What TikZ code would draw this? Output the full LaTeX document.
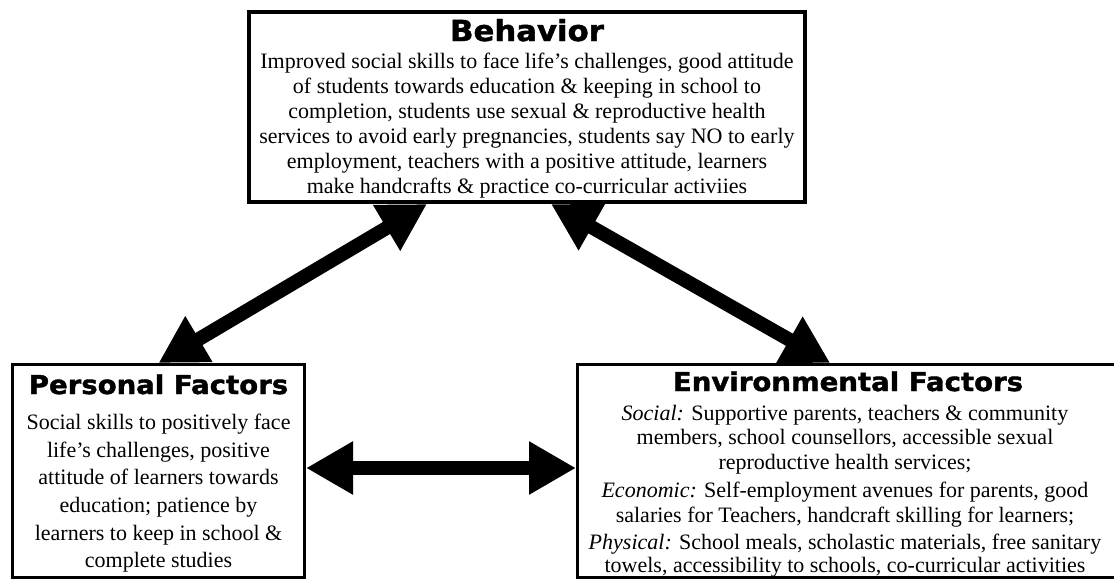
\documentclass[tikz,border=0pt]{standalone}
\usepackage{fontspec}
\setmainfont{Liberation Serif}
\newfontfamily\headfont{DejaVu Sans}[BoldFeatures={FakeStretch=1.06,FakeBold=1.5}]
\usetikzlibrary{arrows.meta}
\pgfdeclarelayer{arrowlayer}
\pgfsetlayers{arrowlayer,main}
\begin{document}
\begin{tikzpicture}[x=1pt,y=-1pt,
  box/.style={draw=black,fill=white,rectangle,inner sep=0pt},
  heading/.style={font=\headfont\bfseries\fontsize{26}{30}\selectfont,inner sep=0pt,anchor=base},
  body/.style={font=\fontsize{22}{25}\selectfont,align=center,inner sep=0pt,anchor=north},
  link/.style={line width=14pt,
    {Triangle[width=50pt,length=47pt]}-{Triangle[width=50pt,length=47pt]}},
]
\useasboundingbox (0,0) rectangle (1114,579);

% the three boxes
\node[box,line width=4pt,minimum width=556pt,minimum height=190pt] (beh) at (527,107) {};
\node[box,line width=3pt,minimum width=292pt,minimum height=212.5pt] (per) at (158.5,470.75) {};
\node[box,line width=3pt,minimum width=539.5pt,minimum height=212.5pt] (env) at (847.25,470.75) {};

% headings
\node[heading,font=\headfont\bfseries\fontsize{29}{32}\selectfont] (behhead) at (527,41) {Behavior};
\node[heading] (perhead) at (158.5,394) {Personal Factors};
\node[heading] (envhead) at (848,391) {Environmental Factors};

% box texts
\node[body] (behtext) at (527,52.5) {Improved social skills to face life’s challenges, good attitude\\
of students towards education \& keeping in school to\\
completion, students use sexual \& reproductive health\\
services to avoid early pregnancies, students say NO to early\\
employment, teachers with a positive attitude, learners\\
make handcrafts \& practice co-curricular activiies};

\node[body,font=\fontsize{22}{27.6}\selectfont] (pertext) at (158.5,414) {Social skills to positively face\\
life’s challenges, positive\\
attitude of learners towards\\
education; patience by\\
learners to keep in school \&\\
complete studies};

\node[body,font=\fontsize{22}{24.5}\selectfont] (envsocial) at (845,405) {\textit{Social:} Supportive parents, teachers \& community\\
members, school counsellors, accessible sexual\\
reproductive health services;};
\node[body,font=\fontsize{22}{24.5}\selectfont] (enveco) at (845,482) {\textit{Economic:} Self-employment avenues for parents, good\\
salaries for Teachers, handcraft skilling for learners;};
\node[body,font=\fontsize{22}{23.5}\selectfont] (envphys) at (845,533.5) {\textit{Physical:} School meals, scholastic materials, free sanitary\\
towels, accessibility to schools, co-curricular activities};

% two-way influence arrows, kept under the boxes
\begin{pgfonlayer}{arrowlayer}
\draw[link] (per.north) -- ([xshift=-100pt]beh.south);
\draw[link] ([xshift=24pt]beh.south) -- ([xshift=-17pt]env.north);
\draw[link] ([yshift=2.75pt]per.east) -- ([yshift=2.75pt]env.west);
\end{pgfonlayer}
\end{tikzpicture}
\end{document}
